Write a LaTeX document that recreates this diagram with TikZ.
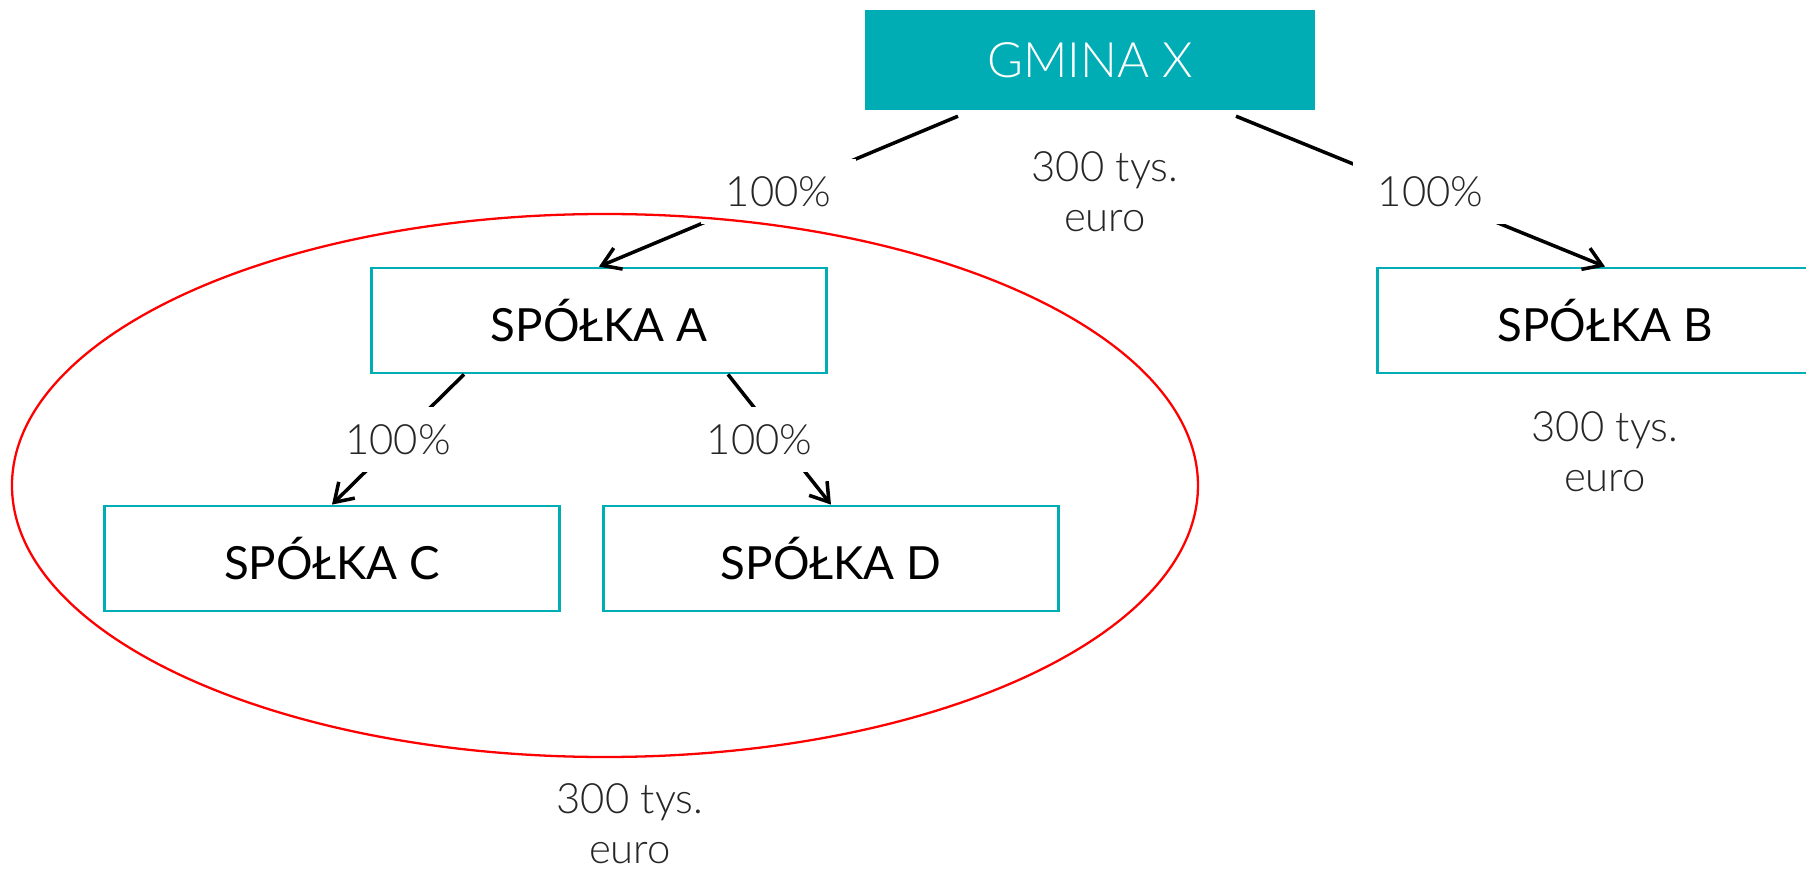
\documentclass[tikz,border=0pt]{standalone}
\usepackage{fontspec}
\setmainfont{Lato}
\newfontfamily\latolight{Lato Light}
\usetikzlibrary{shapes.geometric,arrows.meta}
\definecolor{gminateal}{RGB}{0,173,181}

\begin{document}
\begin{tikzpicture}
[
>={Straight Barb[length=5pt,width=6.5pt]},
node distance=2.6cm,
chart topbox/.style={rectangle,fill=gminateal,text=white,font=\latolight\fontsize{13.9}{16.7}\selectfont,minimum width=4.5cm,minimum height=1cm,inner sep=0pt},
chart box/.style={rectangle,draw=gminateal,line width=0.8pt,font=\fontsize{13}{15.6}\selectfont,minimum width=4.55cm,minimum height=1.05cm,inner sep=0pt},
chart group/.style={ellipse,draw=red,line width=0.65pt,minimum width=11.86cm,minimum height=5.43cm},
chart sharetext/.style={font=\latolight\fontsize{11.9}{14.2}\selectfont,text=black!85,fill=white,inner xsep=0.25cm,inner ysep=0.17cm},
chart amounttext/.style={font=\latolight\fontsize{11.9}{14.2}\selectfont,text=black!85,align=center},
chart arrow/.style={->,line width=1pt}
]

\useasboundingbox (-10.9,0.605) rectangle (7.16,-8.085);

% owner
\node[chart topbox] (gmina) {GMINA X};
\node[chart amounttext, below of=gmina, xshift=0.15cm, yshift=1.285cm] (gminaval) {300 tys.\\euro};

% first level
\node[chart box, below of=gmina, xshift=-4.91cm] (A) {SPÓŁKA A};
\node[chart box, below of=gmina, xshift=5.15cm] (B) {SPÓŁKA B};
\node[chart amounttext, below of=B, yshift=1.285cm] (Bval) {300 tys.\\euro};

% second level
\node[chart box, below of=A, xshift=-2.67cm, yshift=0.22cm] (C) {SPÓŁKA C};
\node[chart box, below of=A, xshift=2.32cm, yshift=0.22cm] (D) {SPÓŁKA D};

% shares
\draw[chart arrow] ([xshift=-1.32cm,yshift=-0.05cm]gmina.south) -- node[chart sharetext] {100\%} (A.north);
\draw[chart arrow] ([xshift=1.46cm,yshift=-0.05cm]gmina.south) -- node[chart sharetext, xshift=0.1cm] {100\%} (B.north);
\draw[chart arrow] ([xshift=-1.35cm]A.south) -- node[chart sharetext] {100\%} (C.north);
\draw[chart arrow] ([xshift=1.29cm]A.south) -- node[chart sharetext, xshift=-0.2cm] {100\%} (D.north);

% group of A, C and D
\node[chart group, below of=A, xshift=0.06cm, yshift=0.95cm] (grp) {};
\node[chart amounttext, below of=grp, xshift=0.25cm, yshift=-0.785cm] (grpval) {300 tys.\\euro};

\end{tikzpicture}
\end{document}
